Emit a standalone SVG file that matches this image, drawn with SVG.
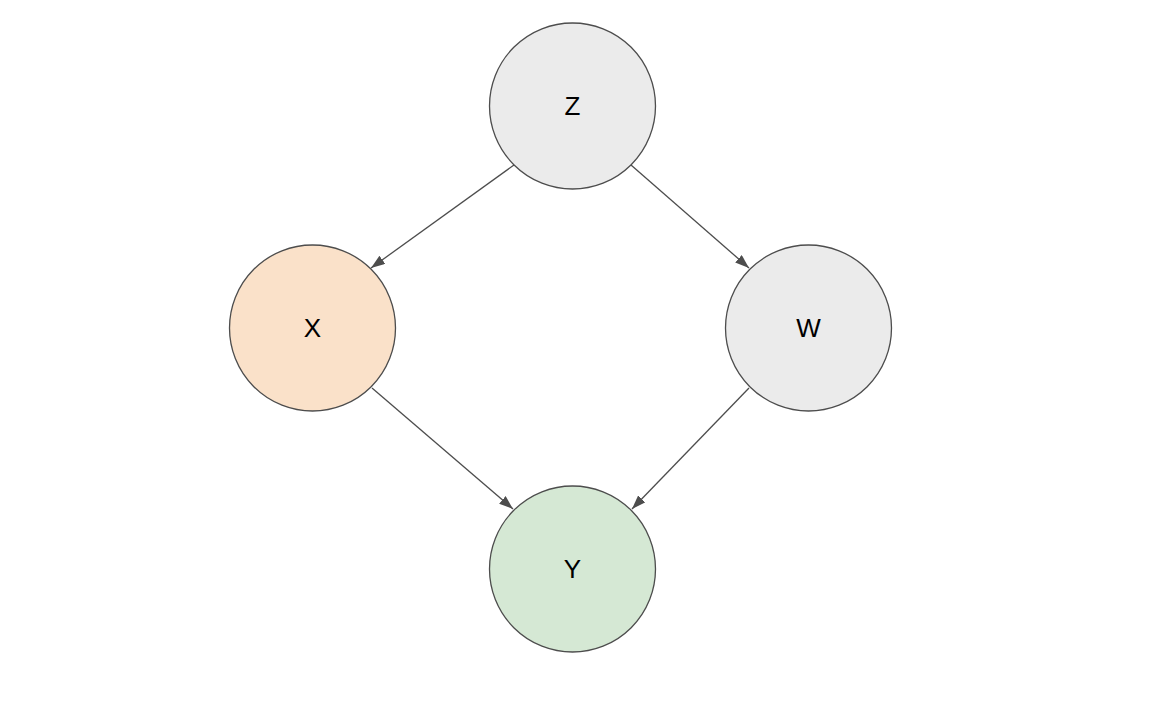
<svg xmlns="http://www.w3.org/2000/svg" width="1150" height="718" viewBox="0 0 1150 718">
<style>
.n{stroke:#4d4d4d;stroke-width:1.3}
.t{font-family:"Liberation Sans",Arial,sans-serif;font-size:26px;fill:#000;text-anchor:middle;dominant-baseline:central}
.e{stroke:#4d4d4d;stroke-width:1.3;fill:none;marker-end:url(#a)}
</style>
<defs>
<marker id="a" viewBox="0 0 14 10" refX="14" refY="5" markerWidth="14" markerHeight="10" markerUnits="userSpaceOnUse" orient="auto">
<path d="M0,0 L14,5 L0,10 Z" fill="#4d4d4d"/>
</marker>
</defs>
<rect width="1150" height="718" fill="#fff"/>
<g id="edges">
<line class="e" x1="514" y1="165" x2="371" y2="268"/>
<line class="e" x1="631" y1="165" x2="749" y2="268"/>
<line class="e" x1="372" y1="388" x2="513" y2="509"/>
<line class="e" x1="749" y1="388" x2="632" y2="509"/>
</g>
<g id="Z"><circle class="n" cx="572.5" cy="106" r="83" fill="#ebebeb"/><text class="t" x="572.5" y="106">Z</text></g>
<g id="X"><circle class="n" cx="312.5" cy="328" r="83" fill="#fae1c9"/><text class="t" x="312.5" y="328">X</text></g>
<g id="W"><circle class="n" cx="808.5" cy="328" r="83" fill="#ebebeb"/><text class="t" x="808.5" y="328">W</text></g>
<g id="Y"><circle class="n" cx="572.5" cy="569" r="83" fill="#d5e8d4"/><text class="t" x="572.5" y="569">Y</text></g>
</svg>
